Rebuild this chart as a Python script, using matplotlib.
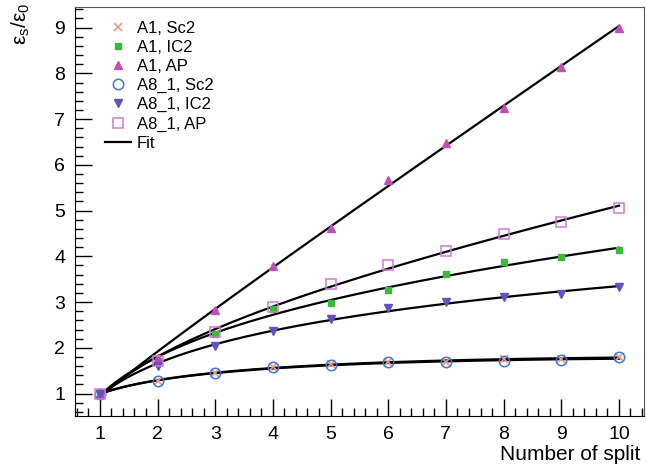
import numpy as np
import matplotlib
matplotlib.use("Agg")
import matplotlib.pyplot as plt
from matplotlib.ticker import MultipleLocator

plt.rcParams['font.family'] = ['Liberation Sans', 'DejaVu Sans']
plt.rcParams['mathtext.fontset'] = 'custom'
plt.rcParams['mathtext.rm'] = 'Liberation Sans'
plt.rcParams['mathtext.it'] = 'Liberation Sans'

# Number of split
n_split = [1, 2, 3, 4, 5, 6, 7, 8, 9, 10]

# efficiency ratio
a1_sc2 = [1.0, 1.27, 1.45, 1.58, 1.64, 1.70, 1.70, 1.75, 1.76, 1.80]
a1_ic2 = [1.0, 1.71, 2.31, 2.85, 2.97, 3.27, 3.62, 3.87, 3.98, 4.14]
a1_ap = [1.0, 1.78, 2.83, 3.78, 4.62, 5.67, 6.48, 7.24, 8.15, 9.00]
a8_sc2 = [1.0, 1.27, 1.44, 1.57, 1.63, 1.69, 1.68, 1.71, 1.73, 1.79]
a8_ic2 = [1.0, 1.60, 2.03, 2.36, 2.63, 2.87, 3.01, 3.12, 3.18, 3.33]
a8_ap = [1.0, 1.72, 2.34, 2.89, 3.40, 3.80, 4.11, 4.49, 4.76, 5.05]

series = [
    ("A1, Sc2", a1_sc2, dict(marker="x", color="#f29a80", ms=6, mew=1.2, ls="none")),
    ("A1, IC2", a1_ic2, dict(marker="s", color="#3cb83c", ms=5, ls="none")),
    ("A1, AP", a1_ap, dict(marker="^", color="#c050b8", ms=6, ls="none")),
    ("A8_1, Sc2", a8_sc2, dict(marker="o", mfc="none", mec="#3c78dc", ms=7.5, mew=1.1, ls="none")),
    ("A8_1, IC2", a8_ic2, dict(marker="v", color="#6450c0", ms=6, ls="none")),
    ("A8_1, AP", a8_ap, dict(marker="s", mfc="none", mec="#d07ad0", ms=6.5, mew=1.1, ls="none")),
]

fig = plt.figure(figsize=(6.47, 4.70), dpi=100)
ax = fig.add_axes([0.116, 0.114, 0.879, 0.871])

x = np.array(n_split, dtype=float)
xf = np.linspace(1, 10, 200)
basis = np.column_stack([np.ones_like(x), x, np.log(x)])
basis_f = np.column_stack([np.ones_like(xf), xf, np.log(xf)])
handles = []
for label, vals, style in series:
    h, = ax.plot(n_split, vals, label=label, zorder=3, **style)
    handles.append(h)
    # fit each series with a + b*x + c*log(x)
    coef = np.linalg.lstsq(basis, np.array(vals), rcond=None)[0]
    fit_line, = ax.plot(xf, basis_f @ coef, color="black", lw=1.6, zorder=2, label="Fit")
handles.append(fit_line)

ax.set_xlim(0.57, 10.43)
ax.set_ylim(0.5, 9.45)
ax.xaxis.set_major_locator(MultipleLocator(1))
ax.xaxis.set_minor_locator(MultipleLocator(0.2))
ax.yaxis.set_major_locator(MultipleLocator(1))
ax.yaxis.set_minor_locator(MultipleLocator(0.2))
ax.tick_params(which="both", direction="in", top=False, right=False, labelsize=14)
ax.tick_params(which="major", length=12, width=1)
ax.tick_params(which="minor", length=6, width=1)
ax.tick_params(axis="x", pad=7)
ax.tick_params(axis="y", pad=7)
for s in ["top", "right"]:
    ax.spines[s].set_color("#555555")

fig.text(0.99, 0.012, "Number of split", ha="right", va="bottom", fontsize=15)
fig.text(0.032, 0.995, r"$\mathregular{ε_s/ε_0}$", rotation=90, ha="center", va="top", fontsize=15)

fig.legend(handles=handles, loc="upper left", bbox_to_anchor=(0.162, 0.955),
           frameon=False, fontsize=12, borderpad=0, borderaxespad=0,
           labelspacing=0.24, handlelength=1.56, handletextpad=0.36)

fig.savefig("out.png", dpi=100)
